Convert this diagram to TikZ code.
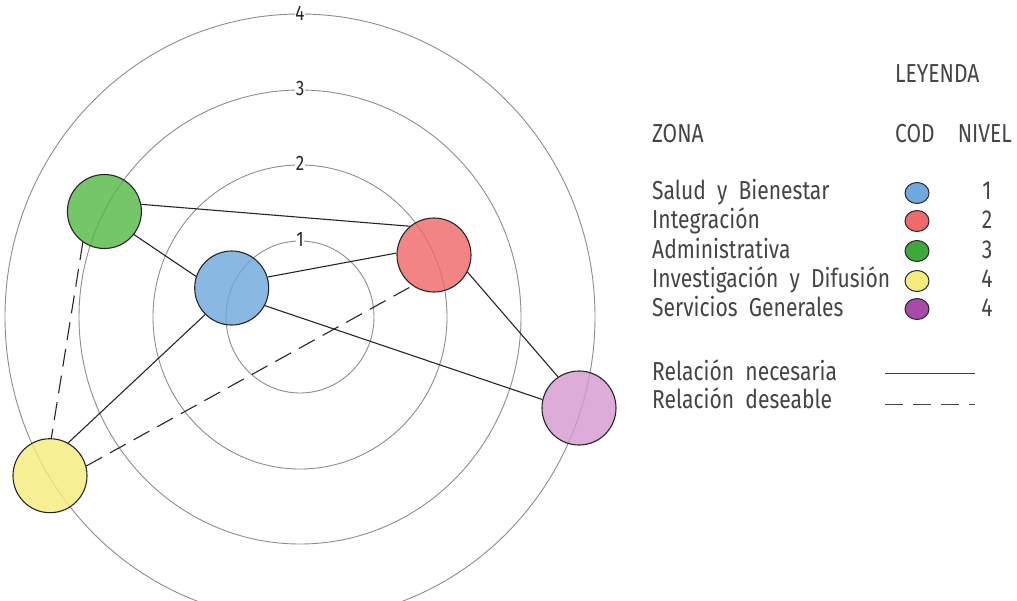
\documentclass[tikz,border=0pt]{standalone}
\usepackage{fontspec}
\setmainfont{Fira Sans}[FakeStretch=0.81]
\usetikzlibrary{shapes.geometric}
\definecolor{ringgray}{HTML}{8C8C8C}
\definecolor{txt}{HTML}{444444}
\definecolor{zblue}{HTML}{6FA8DC}
\definecolor{zred}{HTML}{F0696B}
\definecolor{zgreen}{HTML}{55B947}
\definecolor{zyellow}{HTML}{F5EC7D}
\definecolor{zpurple}{HTML}{D59AD0}
\definecolor{lgreen}{HTML}{3FA83A}
\definecolor{lpurple}{HTML}{A94AA8}
\begin{document}
\begin{tikzpicture}[x=1pt,y=-1pt,
  ring/.style={draw=ringgray, line width=0.9pt},
  ringlbl/.style={font=\fontsize{21}{21}\selectfont, text=black!85, fill=white, inner sep=0.5pt},
  zone/.style={circle, draw=black!85, line width=1.1pt, minimum size=74pt, inner sep=0pt, fill opacity=0.82},
  need/.style={draw=black!85, line width=1.1pt},
  wish/.style={need, dash pattern=on 18pt off 9pt},
  lbl/.style={font=\fontsize{26}{28}\selectfont, text=txt, anchor=base west, inner sep=0pt},
  num/.style={font=\fontsize{26}{28}\selectfont, text=txt, anchor=base, inner sep=0pt},
  dot/.style={ellipse, draw=black!85, line width=1pt, minimum width=24pt, minimum height=21pt, inner sep=0pt}
]
\useasboundingbox (0,0) rectangle (1017,600);
% rings
\coordinate (ctr) at (300,317);
\draw[ring] (ctr) ellipse [x radius=74pt, y radius=76pt];
\draw[ring] (ctr) ellipse [x radius=147pt, y radius=152pt];
\draw[ring] (ctr) ellipse [x radius=221pt, y radius=227pt];
\draw[ring] (ctr) ellipse [x radius=295pt, y radius=303pt];
\node[ringlbl] (r1) at (300,239) {1};
\node[ringlbl] (r2) at (300,163) {2};
\node[ringlbl] (r3) at (300,88) {3};
\node[ringlbl] (r4) at (300,13) {4};
% zones
\node[zone, fill=zblue]   (sb) at (231.7,288) {};
\node[zone, fill=zred]    (ig) at (434,255) {};
\node[zone, fill=zgreen]  (ad) at (104.4,211.5) {};
\node[zone, fill=zyellow] (id) at (50,475.7) {};
\node[zone, fill=zpurple] (sg) at (579,408) {};
% relations
\draw[need] (ad.11) -- (ig.130);
\draw[need] (ad.-38) -- (sb.162);
\draw[need] (sb.17) -- (ig.177);
\draw[need] (sb.-135) -- (id.61);
\draw[need] (sb.-28) -- (sg.167);
\draw[need] (ig.-27) -- (sg.124);
\draw[wish] (ad.-125) -- (id.88);
\draw[wish] (id.15) -- (ig.-125);
% legend
\node[lbl] (ley) at (895,82) {LEYENDA};
\node[lbl] (zona) at (652,142) {ZONA};
\node[lbl] (cod) at (895,142) {COD};
\node[lbl, anchor=base east] (niv) at (1012,142) {NIVEL};
\node[lbl] (t1) at (652,199) {Salud\ \ y\ \ Bienestar};
\node[lbl] (t2) at (652,228) {Integración};
\node[lbl] (t3) at (652,258) {Administrativa};
\node[lbl] (t4) at (652,287) {Investigación\ \ y\ \ Difusión};
\node[lbl] (t5) at (652,316) {Servicios\ \ Generales};
\node[dot, fill=zblue]   (d1) at (917,193) {};
\node[dot, fill=zred]    (d2) at (917,221) {};
\node[dot, fill=lgreen]  (d3) at (917,251) {};
\node[dot, fill=zyellow] (d4) at (917,281) {};
\node[dot, fill=lpurple] (d5) at (917,309) {};
\node[num] (n1) at (987,199) {1};
\node[num] (n2) at (987,228) {2};
\node[num] (n3) at (987,258) {3};
\node[num] (n4) at (987,287) {4};
\node[num] (n5) at (987,316) {4};
\node[lbl] (rn) at (652,380) {Relación\ \ necesaria};
\node[lbl] (rd) at (652,408) {Relación\ \ deseable};
\coordinate (s1) at (885,373);
\coordinate (s2) at (975,373);
\coordinate (w1) at (885,404);
\coordinate (w2) at (975,404);
\draw[line width=1pt, draw=txt] (s1) -- (s2);
\draw[line width=1pt, draw=txt, dash pattern=on 18pt off 10pt] (w1) -- (w2);
\end{tikzpicture}
\end{document}
